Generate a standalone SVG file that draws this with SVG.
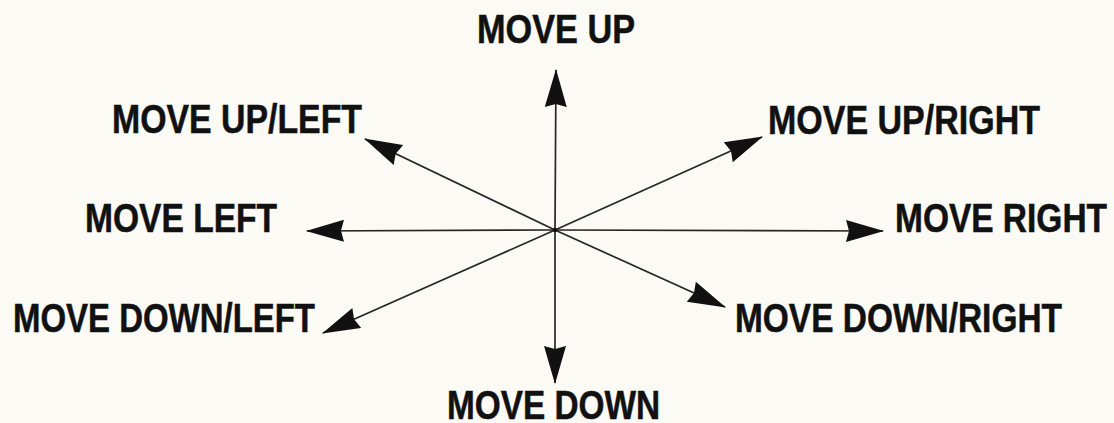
<svg xmlns="http://www.w3.org/2000/svg" width="1114" height="423" viewBox="0 0 1114 423">
<style>
.lbl{font-family:"Liberation Sans",Arial,sans-serif;font-weight:bold;font-size:40px;fill:#111;stroke:#111;stroke-width:0.5}
.arr{stroke:#262626;stroke-width:1.7;fill:none}
</style>
<defs>
<marker id="ah" markerUnits="userSpaceOnUse" markerWidth="38" markerHeight="24" viewBox="0 0 38 24" refX="37" refY="12" orient="auto">
<path d="M38,12 L0,1 L3,12 L0,23 Z" fill="#111"/>
</marker>
</defs>
<rect width="1114" height="423" fill="#fbfaf5"/>
<g id="connectors">
<line class="arr" x1="555" y1="230" x2="556" y2="70" marker-end="url(#ah)"/>
<line class="arr" x1="555" y1="230" x2="555" y2="383" marker-end="url(#ah)"/>
<line class="arr" x1="555" y1="230" x2="307" y2="231" marker-end="url(#ah)"/>
<line class="arr" x1="555" y1="230" x2="883" y2="231" marker-end="url(#ah)"/>
<line class="arr" x1="555" y1="230" x2="365" y2="139" marker-end="url(#ah)"/>
<line class="arr" x1="555" y1="230" x2="762" y2="137" marker-end="url(#ah)"/>
<line class="arr" x1="555" y1="230" x2="323" y2="333" marker-end="url(#ah)"/>
<line class="arr" x1="555" y1="230" x2="725" y2="307" marker-end="url(#ah)"/>
<circle cx="555" cy="230" r="2.2" fill="#111"/>
</g>
<g id="up"><text class="lbl" x="477" y="43" textLength="158" lengthAdjust="spacingAndGlyphs">MOVE UP</text></g>
<g id="upleft"><text class="lbl" x="112" y="133" textLength="250" lengthAdjust="spacingAndGlyphs">MOVE UP/LEFT</text></g>
<g id="upright"><text class="lbl" x="768" y="134" textLength="272" lengthAdjust="spacingAndGlyphs">MOVE UP/RIGHT</text></g>
<g id="left"><text class="lbl" x="85" y="232" textLength="192" lengthAdjust="spacingAndGlyphs">MOVE LEFT</text></g>
<g id="right"><text class="lbl" x="895" y="232" textLength="212" lengthAdjust="spacingAndGlyphs">MOVE RIGHT</text></g>
<g id="downleft"><text class="lbl" x="13" y="332" textLength="302" lengthAdjust="spacingAndGlyphs">MOVE DOWN/LEFT</text></g>
<g id="downright"><text class="lbl" x="735" y="332" textLength="327" lengthAdjust="spacingAndGlyphs">MOVE DOWN/RIGHT</text></g>
<g id="down"><text class="lbl" x="447" y="419" textLength="213" lengthAdjust="spacingAndGlyphs">MOVE DOWN</text></g>
</svg>
